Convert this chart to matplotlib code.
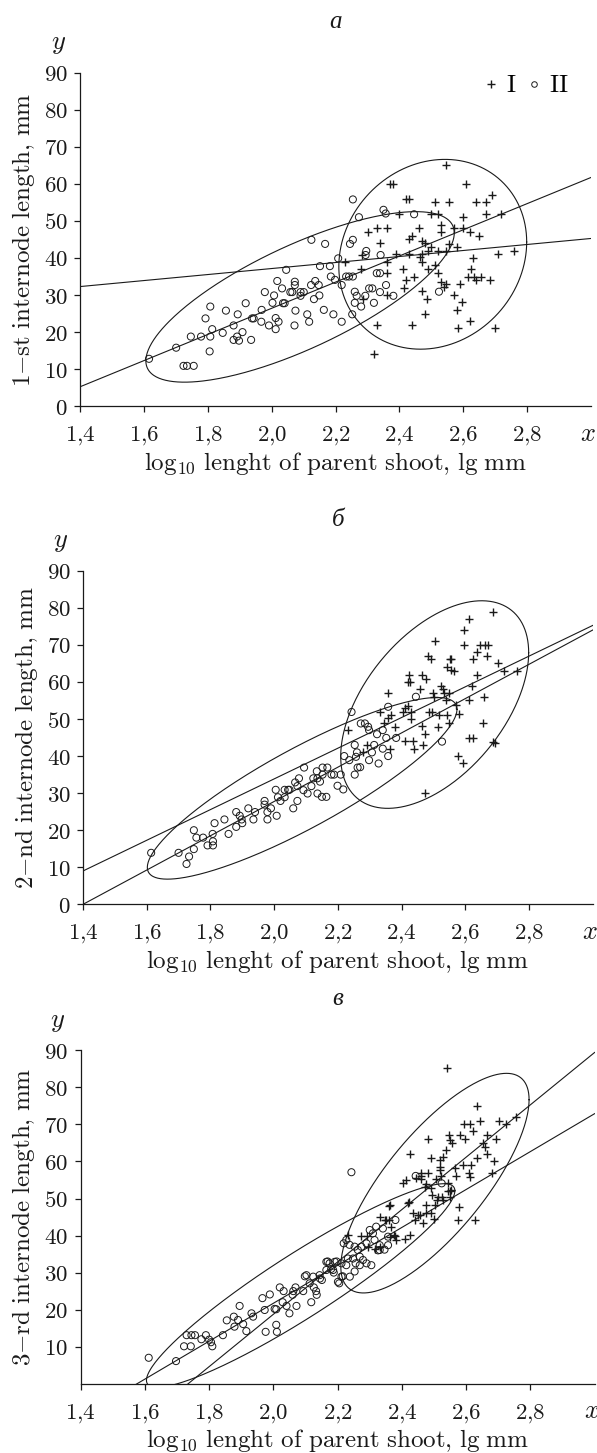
import numpy as np
import matplotlib
matplotlib.use("Agg")
import matplotlib.pyplot as plt
from matplotlib.lines import Line2D

plt.rcParams['mathtext.fontset'] = 'cm'
plt.rcParams['font.family'] = ['DejaVu Serif']

INK = '#1a1a1a'

# ---------------- data ----------------
xticks = [1.4, 1.6, 1.8, 2.0, 2.2, 2.4, 2.6, 2.8]
xtick_labels = ['1,4', '1,6', '1,8', '2,0', '2,2', '2,4', '2,6', '2,8']
yticks_ab = [0, 10, 20, 30, 40, 50, 60, 70, 80, 90]
yticks_c = [10, 20, 30, 40, 50, 60, 70, 80, 90]

panel_letters = ['а', 'б', 'в']
ylabels = ['1-st internode length, mm', '2-nd internode length, mm', '3-rd internode length, mm']
xlabel = 'log_{10} lenght of parent shoot, lg mm'

# panel a, group I (crosses)
a_cross = [(2.545, 65), (2.37, 60), (2.38, 60), (2.61, 60), (2.69, 57), (2.42, 56), (2.43, 56),
           (2.51, 55), (2.555, 55), (2.64, 55), (2.67, 55), (2.40, 52), (2.50, 52), (2.52, 52),
           (2.72, 52), (2.67, 52), (2.60, 51), (2.30, 47), (2.33, 48), (2.36, 48), (2.46, 48),
           (2.53, 49), (2.57, 48), (2.60, 48), (2.62, 47), (2.65, 46), (2.34, 44), (2.43, 45),
           (2.44, 46), (2.48, 44), (2.53, 47), (2.50, 43), (2.58, 43), (2.43, 41), (2.47, 41),
           (2.39, 41), (2.76, 42), (2.71, 41), (2.63, 40), (2.47, 39), (2.545, 42), (2.41, 37),
           (2.52, 36), (2.36, 36), (2.625, 37), (2.28, 37), (2.445, 35), (2.42, 34), (2.53, 33.5),
           (2.54, 32.3), (2.545, 33), (2.635, 35), (2.656, 35), (2.685, 34), (2.64, 34), (2.615, 35),
           (2.415, 32), (2.47, 31), (2.485, 29), (2.57, 30), (2.595, 28), (2.58, 26), (2.585, 21),
           (2.70, 21), (2.62, 23), (2.44, 22), (2.33, 22), (2.48, 25), (2.36, 30), (2.285, 29),
           (2.32, 14), (2.59, 33), (2.36, 39), (2.23, 39), (2.49, 37), (2.51, 38), (2.52, 42),
           (2.49, 42), (2.47, 44.5), (2.556, 43.8), (2.465, 40.3), (2.284, 40.8)]
# panel a, group II (circles)
a_circ = [(1.615, 12.8), (1.70, 15.8), (1.723, 10.9), (1.734, 10.9), (1.755, 10.9), (1.746, 18.8),
          (1.778, 18.8), (1.807, 18.8), (1.792, 23.7), (1.807, 26.9), (1.813, 20.8), (1.805, 14.8),
          (1.846, 19.8), (1.856, 25.8), (1.88, 21.8), (1.893, 24.8), (1.88, 17.9), (1.897, 17.7),
          (1.891, 18.8), (1.908, 20), (1.918, 27.8), (1.935, 17.9), (1.938, 23.7), (1.943, 23.7),
          (1.968, 26), (1.967, 22.8), (1.978, 30.8), (1.991, 21.8), (2.002, 27.9), (2.007, 29.9),
          (2.012, 23.8), (2.012, 20.8), (2.021, 22.8), (2.017, 33.8), (2.032, 31.8), (2.035, 27.8),
          (2.04, 27.8), (2.045, 36.8), (2.058, 30.8), (2.064, 30.8), (2.072, 33.6), (2.072, 32.7),
          (2.071, 21.8), (2.074, 25.8), (2.09, 30.8), (2.10, 30.8), (2.09, 29.8), (2.111, 24.8),
          (2.117, 22.8), (2.123, 32.7), (2.136, 33.8), (2.147, 32.7), (2.132, 28.9), (2.149, 29.9),
          (2.124, 44.9), (2.167, 43.8), (2.151, 37.8), (2.182, 37.8), (2.163, 26), (2.193, 24.8),
          (2.185, 35), (2.198, 34.1), (2.208, 39.9), (2.219, 32.7), (2.219, 22.8), (2.233, 35),
          (2.242, 35), (2.252, 24.8), (2.245, 43.8), (2.254, 44.9), (2.254, 55.8), (2.273, 51),
          (2.26, 30.9), (2.266, 29.8), (2.26, 27.9), (2.254, 35), (2.28, 26.9), (2.294, 40.8),
          (2.296, 41.9), (2.293, 29.8), (2.305, 31.8), (2.315, 31.8), (2.32, 27.9), (2.329, 35.9),
          (2.339, 35.9), (2.339, 30.8), (2.341, 40.8), (2.35, 53), (2.357, 52), (2.358, 32.7),
          (2.381, 29.8), (2.446, 51.8), (2.524, 30.9)]

# panel b
b_cross = [(2.688, 78.9), (2.613, 76.9), (2.595, 73.9), (2.505, 71.0), (2.597, 69.9), (2.647, 69.9),
           (2.662, 69.9), (2.671, 69.9), (2.636, 68.0), (2.484, 67.0), (2.492, 66.1), (2.552, 66.1),
           (2.555, 66.1), (2.624, 66.1), (2.668, 67.0), (2.543, 64.1), (2.555, 63.2), (2.564, 62.9),
           (2.704, 65.0), (2.723, 63.0), (2.762, 63.0), (2.424, 62.0), (2.463, 62.0), (2.477, 60.9),
           (2.419, 60.0), (2.426, 60.0), (2.637, 62.0), (2.621, 59.0), (2.524, 59.0), (2.531, 58.0),
           (2.458, 58.0), (2.498, 56.9), (2.503, 56.0), (2.534, 56.9), (2.55, 56.9), (2.54, 55.1),
           (2.358, 56.9), (2.419, 53.5), (2.411, 53.0), (2.332, 51.9), (2.367, 51.1), (2.403, 51.9),
           (2.429, 51.9), (2.485, 51.9), (2.495, 51.9), (2.571, 53.8), (2.579, 51.3), (2.543, 51.1),
           (2.519, 51.1), (2.611, 55.1), (2.66, 56.0), (2.358, 50.2), (2.346, 49.0), (2.429, 49.9),
           (2.380, 47.9), (2.463, 48.1), (2.513, 47.9), (2.475, 45.9), (2.548, 48.8), (2.655, 49.0),
           (2.233, 47.0), (2.291, 43.0), (2.412, 44.0), (2.437, 44.0), (2.466, 43.0), (2.438, 41.9),
           (2.363, 41.9), (2.280, 41.0), (2.613, 45.0), (2.623, 45.0), (2.688, 43.9), (2.692, 43.4),
           (2.576, 40.0), (2.592, 38.0), (2.475, 30.1)]
b_circ = [(1.614, 13.9), (1.70, 13.9), (1.725, 10.9), (1.733, 12.9), (1.748, 14.9), (1.748, 20),
          (1.756, 18), (1.777, 18), (1.791, 15.9), (1.808, 15.9), (1.808, 17), (1.807, 19),
          (1.813, 21.9), (1.844, 22.9), (1.857, 19), (1.881, 20.9), (1.881, 24.9), (1.892, 23.9),
          (1.90, 21.9), (1.898, 22.9), (1.919, 25.9), (1.935, 22.9), (1.94, 24.9), (1.97, 27.9),
          (1.97, 26.9), (1.979, 22.9), (1.979, 24.9), (1.99, 25.9), (2.008, 23.9), (2.005, 30.9),
          (2.012, 28.9), (2.02, 27.9), (2.033, 30.9), (2.044, 30.9), (2.048, 30.9), (2.033, 28.9),
          (2.06, 25.9), (2.066, 32.9), (2.073, 31.9), (2.078, 34), (2.094, 36.9), (2.092, 30.8),
          (2.105, 29.9), (2.073, 27.9), (2.117, 31.9), (2.123, 34), (2.134, 35.9), (2.136, 34),
          (2.136, 29.9), (2.144, 33.1), (2.152, 36.9), (2.167, 36.9), (2.15, 29), (2.164, 29),
          (2.152, 35), (2.18, 35), (2.188, 35), (2.199, 32), (2.217, 31), (2.209, 35), (2.22, 40),
          (2.243, 51.9), (2.253, 43), (2.253, 35), (2.26, 41), (2.262, 36.9), (2.27, 37),
          (2.272, 48.8), (2.285, 48.8), (2.295, 47.9), (2.298, 47), (2.298, 38.9), (2.307, 41),
          (2.314, 43), (2.323, 45.9), (2.328, 38), (2.341, 47), (2.341, 42), (2.352, 44.9),
          (2.358, 53.3), (2.358, 40), (2.383, 44.9), (2.445, 56), (2.527, 43.9), (2.257, 39.8),
          (2.236, 38.9)]

# panel c
c_cross = [(2.541, 85.2), (2.634, 75.1), (2.756, 72.1), (2.723, 70.1), (2.702, 71.0), (2.642, 71.0),
           (2.592, 70.1), (2.611, 70.1), (2.621, 68.2), (2.665, 67.2), (2.692, 66.1), (2.547, 67.2),
           (2.58, 67.2), (2.596, 66.1), (2.481, 66.1), (2.549, 65.8), (2.557, 64.9), (2.654, 64.9),
           (2.66, 64), (2.536, 63.1), (2.425, 62.0), (2.492, 61), (2.518, 60.4), (2.528, 61.3),
           (2.635, 61), (2.665, 61.9), (2.687, 60.1), (2.52, 58.6), (2.564, 58.2), (2.59, 59.1),
           (2.616, 59.1), (2.609, 57), (2.613, 55.9), (2.68, 57), (2.481, 57), (2.518, 57.7),
           (2.567, 56.1), (2.404, 54.3), (2.412, 55), (2.445, 55.5), (2.461, 56.1), (2.505, 55.2),
           (2.523, 56.1), (2.476, 53.9), (2.471, 53.2), (2.492, 52.8), (2.544, 54.1), (2.552, 52.3),
           (2.495, 51), (2.512, 50.5), (2.526, 50.5), (2.549, 51.9), (2.508, 49.6), (2.528, 49.6),
           (2.549, 50.5), (2.476, 48.2), (2.502, 48.2), (2.578, 47.8), (2.575, 44.2), (2.627, 44.2),
           (2.422, 49.1), (2.419, 48.7), (2.36, 48), (2.362, 48.2), (2.474, 46), (2.492, 46),
           (2.5, 44.6), (2.435, 46), (2.451, 45.5), (2.456, 45.5), (2.466, 43.3), (2.44, 44.2),
           (2.331, 45.1), (2.347, 44.2), (2.352, 44.2), (2.36, 44.2), (2.367, 42.2), (2.375, 40.1),
           (2.383, 38.8), (2.409, 39.2), (2.424, 40.1), (2.233, 40.1), (2.274, 39.9), (2.29, 39.9),
           (2.295, 37), (2.331, 37), (2.316, 36.5), (2.362, 39.7), (2.378, 39.9), (2.545, 52.1),
           (2.459, 57), (2.459, 55.2)]
c_circ = [(1.612, 7), (1.697, 6.1), (1.722, 10.1), (1.73, 13.1), (1.745, 13.1), (1.756, 13.1),
          (1.743, 10.1), (1.776, 12), (1.79, 13.1), (1.80, 11.9), (1.806, 11.2), (1.81, 10.1),
          (1.843, 13.1), (1.855, 17.1), (1.877, 18.1), (1.879, 15.4), (1.89, 17.2), (1.895, 21),
          (1.906, 16.1), (1.916, 14.2), (1.932, 19), (1.937, 18.1), (1.966, 23.1), (1.989, 24.1),
          (1.973, 19.9), (2.004, 20.2), (2.009, 20.1), (1.976, 14), (2.011, 14), (2.009, 15.9),
          (2.02, 26), (2.032, 25), (2.029, 22), (2.041, 21), (2.05, 19), (2.06, 24), (2.062, 25),
          (2.069, 26), (2.072, 21), (2.093, 25), (2.098, 29), (2.118, 22), (2.135, 24), (2.133, 25),
          (2.103, 29.3), (2.113, 27.1), (2.124, 28.9), (2.144, 29.3), (2.165, 32.9), (2.165, 30.7),
          (2.175, 32.5), (2.186, 30.7), (2.191, 32.9), (2.201, 27.5), (2.212, 28.9), (2.212, 32.5),
          (2.227, 32), (2.232, 33.8), (2.248, 33.8), (2.253, 30.3), (2.256, 32.5), (2.269, 32),
          (2.269, 34.3), (2.279, 33.4), (2.29, 32.5), (2.305, 32), (2.219, 37.9), (2.227, 38.8),
          (2.237, 37.5), (2.253, 37), (2.263, 36.1), (2.274, 37), (2.29, 37.9), (2.315, 38.8),
          (2.31, 40.6), (2.30, 41.5), (2.32, 42.4), (2.341, 41.9), (2.357, 39.7), (2.331, 37.4),
          (2.357, 37.4), (2.331, 36.1), (2.38, 44.2), (2.243, 57.1), (2.443, 56.1), (2.524, 54.1),
          (2.145, 28.4), (2.126, 26), (2.151, 28), (2.18, 31), (2.197, 33), (2.216, 29),
          (2.169, 33), (2.188, 30), (2.205, 27.1), (2.238, 28.9), (2.326, 36), (2.346, 36.2)]

# regression lines: (value at x=1.4, slope)
a_lines = [(5.3, 35.25), (32.3, 8.1)]
b_lines = [(9.0, 41.4), (0.0, 46.25)]
c_lines = [(51.2 * (1.4 - 1.576), 51.2), (70.7 * (1.4 - 1.735), 70.7)]

# ellipses: centre x, centre y, half x-extent, half y-extent, correlation
a_ellipses = [(2.0885, 29.5, 0.4835, 23.0, 0.75), (2.5045, 41.0, 0.2945, 25.6, 0.13)]
b_ellipses = [(2.088, 31.3, 0.486, 24.5, 0.87), (2.504, 53.9, 0.295, 28.0, 0.50)]
c_ellipses = [(2.085, 26.5, 0.48, 27.5, 0.93), (2.503, 54.15, 0.293, 29.65, 0.76)]

legend_labels = ['I', 'II']


def cm(s):
    s = s.replace(' ', r'\ ').replace(',', '{,}').replace('-', '{-}')
    return r'$\mathrm{' + s + '}$'


def draw_ellipse(ax, cx, cy, w, h, r):
    t = np.linspace(0, 2 * np.pi, 400)
    ex = cx + w * np.cos(t)
    ey = cy + h * (r * np.cos(t) + np.sqrt(1 - r * r) * np.sin(t))
    ax.plot(ex, ey, color=INK, lw=0.8)


fig = plt.figure(figsize=(5.97, 14.53), dpi=100)
rects = [[0.1348, 0.7204, 0.8548, 0.2296],
         [0.139, 0.3776, 0.8538, 0.2296],
         [0.135, 0.0477, 0.861, 0.2294]]
panels = [(a_cross, a_circ, a_lines, a_ellipses, yticks_ab),
          (b_cross, b_circ, b_lines, b_ellipses, yticks_ab),
          (c_cross, c_circ, c_lines, c_ellipses, yticks_c)]

for i, (crosses, circs, lines, ells, yt) in enumerate(panels):
    ax = fig.add_axes(rects[i])
    cr = np.array(crosses)
    ci = np.array(circs)
    ax.scatter(ci[:, 0], ci[:, 1], s=26, marker='o', facecolors='none',
               edgecolors=INK, linewidths=0.7, zorder=3)
    ax.scatter(cr[:, 0], cr[:, 1], s=32, marker='+', color=INK, linewidths=1.0, zorder=3)
    lx = np.array([1.4, 3.0])
    for b0, k in lines:
        ax.plot(lx, b0 + k * (lx - 1.4), color=INK, lw=0.8)
    for e in ells:
        draw_ellipse(ax, *e)

    ax.set_xlim(1.4, 3.0)
    ax.set_ylim(0, 90)
    for s in ['top', 'right']:
        ax.spines[s].set_visible(False)
    for s in ['left', 'bottom']:
        ax.spines[s].set_linewidth(0.9)
        ax.spines[s].set_color(INK)
    ax.set_xticks(xticks)
    ax.set_xticklabels([cm(t) for t in xtick_labels])
    ax.set_yticks(yt)
    ax.set_yticklabels([cm(str(v)) for v in yt])
    ax.tick_params(direction='out', length=4, width=0.9, color=INK, labelsize=16.5,
                   labelcolor=INK)
    ax.tick_params(axis='x', pad=9)
    ax.tick_params(axis='y', pad=5)
    ax.set_xlabel(cm(xlabel), fontsize=18, color=INK, labelpad=2)
    ax.set_ylabel(cm(ylabels[i]), fontsize=18, color=INK, labelpad=5)
    ax.text(0.5, 1.153, panel_letters[i], transform=ax.transAxes, ha='center', va='center',
            fontsize=18, family='Liberation Serif', style='italic', color=INK)
    ax.text(-0.044, 1.088, r'$y$', transform=ax.transAxes, ha='center', va='center',
            fontsize=19, color=INK)
    ax.text(0.994, -0.081, r'$x$', transform=ax.transAxes, ha='center', va='center',
            fontsize=19, color=INK)

    if i == 0:
        handles = [Line2D([], [], ls='none', marker='+', color=INK, ms=6, mew=1.0),
                   Line2D([], [], ls='none', marker='o', mfc='none', mec=INK, ms=4, mew=0.7)]
        ax.legend(handles, [cm(t) for t in legend_labels], loc='upper right',
                  bbox_to_anchor=(0.985, 1.04), ncol=2, frameon=False, fontsize=18,
                  handlelength=0.6, handletextpad=0.3, columnspacing=0.4, borderpad=0.1)

fig.savefig('out.png', dpi=100)
